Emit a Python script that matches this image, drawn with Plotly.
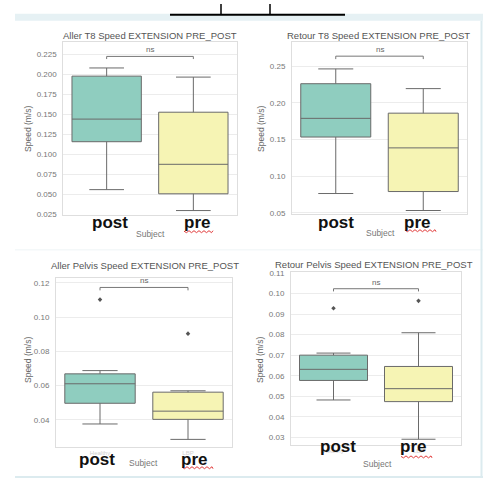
import plotly.graph_objects as go

W, H = 483, 484

categories = ["Healthy", "LBP"]
display_labels = ["post", "pre"]
titles = [
    "Aller T8 Speed EXTENSION PRE_POST",
    "Retour T8 Speed EXTENSION PRE_POST",
    "Aller Pelvis Speed EXTENSION PRE_POST",
    "Retour Pelvis Speed EXTENSION PRE_POST",
]

# box statistics per panel: [post(Healthy), pre(LBP)]
aller_t8_lower = [0.0560, 0.0299]
aller_t8_q1 = [0.1158, 0.0508]
aller_t8_median = [0.1440, 0.0876]
aller_t8_q3 = [0.1976, 0.1526]
aller_t8_upper = [0.2078, 0.1964]
aller_t8_outliers = [[], []]

retour_t8_lower = [0.0763, 0.0531]
retour_t8_q1 = [0.1534, 0.0790]
retour_t8_median = [0.1789, 0.1386]
retour_t8_q3 = [0.2262, 0.1860]
retour_t8_upper = [0.2464, 0.2195]
retour_t8_outliers = [[], []]

aller_pelvis_lower = [0.0375, 0.0285]
aller_pelvis_q1 = [0.0496, 0.0402]
aller_pelvis_median = [0.0610, 0.0450]
aller_pelvis_q3 = [0.0668, 0.0561]
aller_pelvis_upper = [0.0687, 0.0569]
aller_pelvis_outliers = [[0.1102], [0.0903]]

retour_pelvis_lower = [0.0482, 0.0291]
retour_pelvis_q1 = [0.0577, 0.0474]
retour_pelvis_median = [0.0631, 0.0537]
retour_pelvis_q3 = [0.0700, 0.0645]
retour_pelvis_upper = [0.0710, 0.0809]
retour_pelvis_outliers = [[0.0928], [0.0964]]

# significance bracket levels (data units) and label
bracket_y = [0.2222, 0.2638, 0.1173, 0.1023]
bracket_drop = [0.0033, 0.0040, 0.0017, 0.0013]
sig_label = "ns"

y_ranges = [[0.0238, 0.2406], [0.0477, 0.2836], [0.0239, 0.1230], [0.0265, 0.1102]]
y_dticks = [0.025, 0.05, 0.02, 0.01]
y_formats = [".3f", ".2f", ".2f", ".2f"]

panels = [
    (aller_t8_lower, aller_t8_q1, aller_t8_median, aller_t8_q3, aller_t8_upper, aller_t8_outliers),
    (retour_t8_lower, retour_t8_q1, retour_t8_median, retour_t8_q3, retour_t8_upper, retour_t8_outliers),
    (aller_pelvis_lower, aller_pelvis_q1, aller_pelvis_median, aller_pelvis_q3, aller_pelvis_upper, aller_pelvis_outliers),
    (retour_pelvis_lower, retour_pelvis_q1, retour_pelvis_median, retour_pelvis_q3, retour_pelvis_upper, retour_pelvis_outliers),
]

fill_colors = ["#8fcdbf", "#f6f4b4"]
edge = "#6a6a6a"
FONT = "Liberation Sans, Arial, sans-serif"


def px(x):
    return x / W


def py(y):
    return 1 - y / H


# plot-area pixel boxes (left, right, top, bottom)
areas = [(63.3, 236.7, 38.3, 215), (292, 467, 38.3, 214), (56, 232, 278.3, 450.7), (291, 461, 273, 448)]

fig = go.Figure()
layout = {}
shapes = []
annotations = []


def pann(x, y, text, size, color, **kw):
    d = dict(x=px(x), y=py(y), xref="paper", yref="paper", text=text, showarrow=False,
             xanchor="center", yanchor="middle",
             font=dict(family=FONT, size=size, color=color))
    d.update(kw)
    return d


for i, (lo, q1, med, q3, up, outl) in enumerate(panels):
    n = "" if i == 0 else str(i + 1)
    xa, ya = "x" + n, "y" + n
    for j, cat in enumerate(categories):
        fig.add_trace(go.Box(
            x=[cat], q1=[q1[j]], median=[med[j]], q3=[q3[j]],
            lowerfence=[lo[j]], upperfence=[up[j]],
            fillcolor=fill_colors[j], line=dict(color=edge, width=1),
            whiskerwidth=0.5, width=0.8, boxpoints=False,
            showlegend=False, hoverinfo="skip", xaxis=xa, yaxis=ya,
        ))
        if outl[j]:
            fig.add_trace(go.Scatter(
                x=[cat] * len(outl[j]), y=outl[j], mode="markers",
                marker=dict(symbol="diamond", size=3.5, color="#555"),
                showlegend=False, hoverinfo="skip", xaxis=xa, yaxis=ya,
            ))
    l, r, t, b = areas[i]
    layout["xaxis" + n] = dict(
        domain=[px(l), px(r)], anchor=ya, type="category",
        categoryorder="array", categoryarray=categories, range=[-0.5, 1.5],
        showgrid=False, showline=True, mirror=True, linecolor="#dedede", linewidth=1,
        zeroline=False, ticks="", showticklabels=(i >= 2), ticklabelstandoff=0,
        tickfont=dict(family=FONT, size=6, color="#d0d0d0"),
    )
    layout["yaxis" + n] = dict(
        domain=[py(b), py(t)], anchor=xa, range=y_ranges[i],
        dtick=y_dticks[i], tick0=0, tickformat=y_formats[i],
        showgrid=True, gridcolor="#ececec", gridwidth=1,
        showline=True, mirror=True, linecolor="#dedede", linewidth=1,
        zeroline=False, ticks="", ticklabelstandoff=4,
        tickfont=dict(family=FONT, size=8, color="#777"),
    )
    # significance bracket
    yb, dr = bracket_y[i], bracket_drop[i]
    for x0, y0, x1, y1 in [(0, yb - dr, 0, yb), (0, yb, 1, yb), (1, yb, 1, yb - dr)]:
        shapes.append(dict(type="line", xref=xa, yref=ya, x0=x0, y0=y0, x1=x1, y1=y1,
                           line=dict(color="#777", width=1)))
    annotations.append(dict(x=0.5, y=yb, xref=xa, yref=ya, text=sig_label, showarrow=False,
                            xanchor="center", yanchor="bottom",
                            font=dict(family=FONT, size=8, color="#666")))

# titles, axis labels, overlaid post/pre labels (pixel positions)
title_pos = [(150, 32), (378, 32), (145, 266), (374, 265)]
ylab_pos = [(28, 127), (261, 127), (28, 362), (260, 362)]
subj_pos = [(150, 234), (380, 233), (143, 467), (377, 468)]
post_pos = [(110, 222), (336, 222), (97, 463), (338, 450)]
pre_pos = [(197, 222), (417, 222), (194, 463), (413, 450)]
wave_pos = [(184, 213, 231), (405, 436, 230), (182, 213, 471), (401, 432, 460)]

for i in range(4):
    annotations.append(pann(title_pos[i][0], title_pos[i][1], titles[i], 9.5, "#555"))
    annotations.append(pann(ylab_pos[i][0], ylab_pos[i][1], "Speed (m/s)", 8.5, "#666", textangle=-90))
    annotations.append(pann(subj_pos[i][0], subj_pos[i][1], "Subject", 8.5, "#777"))
    annotations.append(pann(post_pos[i][0], post_pos[i][1], "<b>%s</b>" % display_labels[0], 17, "#111"))
    annotations.append(pann(pre_pos[i][0], pre_pos[i][1], "<b>%s</b>" % display_labels[1], 17, "#111"))
    x0, x1, yw = wave_pos[i]
    path = "M %f %f" % (px(x0), py(yw))
    k = 0
    xx = x0
    while xx < x1:
        xx = min(xx + 2.5, x1)
        k += 1
        path += " L %f %f" % (px(xx), py(yw + (1.5 if k % 2 else -0.5)))
    shapes.append(dict(type="path", xref="paper", yref="paper", path=path,
                       line=dict(color="#e23a3a", width=1)))

# page decorations
shapes.append(dict(type="rect", xref="paper", yref="paper", x0=px(15), x1=1, y0=py(17), y1=py(10),
                   fillcolor="#e6f1f4", line=dict(width=0), layer="below"))
shapes.append(dict(type="line", xref="paper", yref="paper", x0=px(170), x1=px(345), y0=py(11), y1=py(11),
                   line=dict(color="#000", width=2)))
for xv in [221, 270]:
    shapes.append(dict(type="line", xref="paper", yref="paper", x0=px(xv), x1=px(xv), y0=py(0), y1=py(11),
                       line=dict(color="#000", width=1.5)))
shapes.append(dict(type="line", xref="paper", yref="paper", x0=px(15), x1=1, y0=py(250), y1=py(250),
                   line=dict(color="#eef4f6", width=1)))
shapes.append(dict(type="line", xref="paper", yref="paper", x0=px(15), x1=1, y0=py(481), y1=py(481),
                   line=dict(color="#dcebef", width=2)))
shapes.append(dict(type="line", xref="paper", yref="paper", x0=px(481.5), x1=px(481.5), y0=py(481), y1=py(17),
                   line=dict(color="#dcebef", width=2)))

fig.update_layout(
    width=W, height=H, margin=dict(l=0, r=0, t=0, b=0),
    paper_bgcolor="white", plot_bgcolor="white",
    boxmode="overlay", showlegend=False,
    shapes=shapes, annotations=annotations, **layout,
)

fig.write_html("out.html", config={"displayModeBar": False},
               post_script="document.body.style.margin='0';document.body.style.overflow='hidden';")
